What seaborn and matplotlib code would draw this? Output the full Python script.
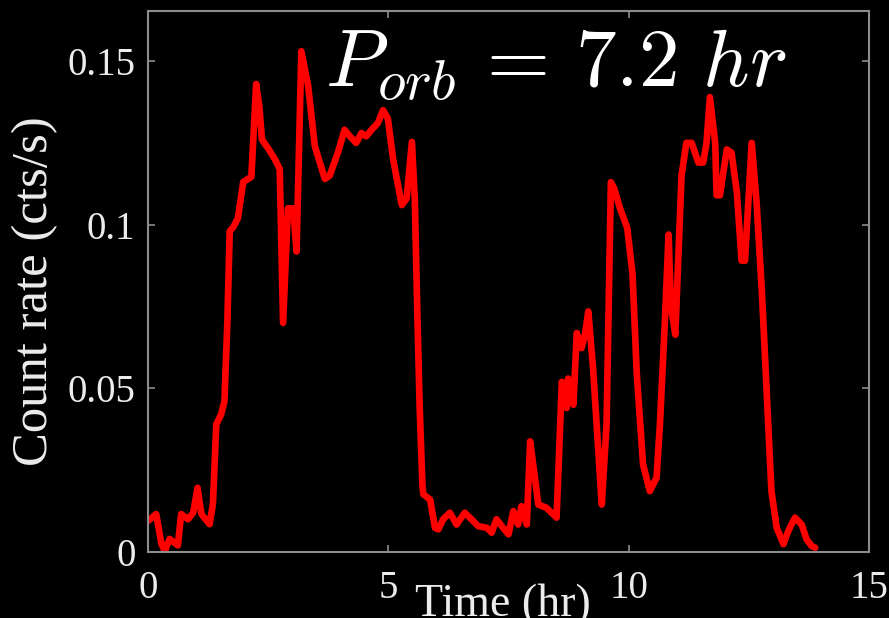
import matplotlib
matplotlib.use("Agg")
import matplotlib.pyplot as plt
import seaborn as sns
import pandas as pd

# Light curve: time since start of observation (hr) and count rate (cts/s)
time_hr = [
    0.0, 0.17, 0.28, 0.35, 0.45, 0.62, 0.69, 0.83, 0.94, 1.03, 1.11, 1.28,
    1.35, 1.39, 1.42, 1.52, 1.59, 1.65, 1.70, 1.78, 1.87, 1.98, 2.08, 2.15,
    2.25, 2.32, 2.37, 2.50, 2.64, 2.74, 2.81, 2.91, 3.02, 3.09, 3.19, 3.33,
    3.47, 3.68, 3.78, 3.95, 4.09, 4.20, 4.33, 4.44, 4.54, 4.65, 4.78, 4.89,
    4.99, 5.10, 5.28, 5.38, 5.49, 5.55, 5.60, 5.65, 5.71, 5.73, 5.87, 5.97,
    6.04, 6.14, 6.28, 6.42, 6.59, 6.73, 6.87, 7.05, 7.15, 7.25, 7.36, 7.50,
    7.60, 7.70, 7.77, 7.88, 7.95, 8.05, 8.12, 8.29, 8.50, 8.61, 8.71, 8.74,
    8.85, 8.92, 9.02, 9.09, 9.16, 9.26, 9.44, 9.54, 9.63, 9.70, 9.82, 9.97,
    10.08, 10.17, 10.30, 10.44, 10.58, 10.65, 10.75, 10.83, 10.88, 10.97,
    11.10, 11.20, 11.31, 11.45, 11.55, 11.62, 11.69, 11.80, 11.83, 11.90,
    12.04, 12.14, 12.25, 12.35, 12.42, 12.49, 12.56, 12.66, 12.77, 12.87,
    12.97, 13.08, 13.22, 13.32, 13.46, 13.60, 13.70, 13.81, 13.88,
]
count_rate = [
    0.0095, 0.0116, 0.0024, 0.0003, 0.0040, 0.0020, 0.0116, 0.0100, 0.0120,
    0.0196, 0.0116, 0.0085, 0.0146, 0.0288, 0.0390, 0.0420, 0.0460, 0.0700,
    0.0980, 0.0994, 0.1020, 0.1130, 0.1140, 0.1146, 0.1430, 0.1355, 0.1260,
    0.1233, 0.1200, 0.1170, 0.0700, 0.1050, 0.1050, 0.0918, 0.1530, 0.1426,
    0.1240, 0.1140, 0.1150, 0.1220, 0.1290, 0.1270, 0.1250, 0.1280, 0.1270,
    0.1290, 0.1310, 0.1350, 0.1324, 0.1200, 0.1060, 0.1080, 0.1253, 0.1080,
    0.0750, 0.0450, 0.0200, 0.0176, 0.0160, 0.0074, 0.0069, 0.0100, 0.0120,
    0.0084, 0.0120, 0.0100, 0.0079, 0.0074, 0.0059, 0.0100, 0.0079, 0.0054,
    0.0125, 0.0084, 0.0140, 0.0084, 0.0338, 0.0227, 0.0145, 0.0135, 0.0105,
    0.0520, 0.0440, 0.0530, 0.0450, 0.0669, 0.0623, 0.0664, 0.0735, 0.0560,
    0.0145, 0.0390, 0.1130, 0.1110, 0.1050, 0.0990, 0.0850, 0.0540, 0.0267,
    0.0186, 0.0227, 0.0390, 0.0694, 0.0970, 0.0750, 0.0664, 0.1150, 0.1250,
    0.1250, 0.1190, 0.1190, 0.1250, 0.1390, 0.1250, 0.1090, 0.1090, 0.1230,
    0.1220, 0.1100, 0.0890, 0.0890, 0.1070, 0.1250, 0.1070, 0.0800, 0.0490,
    0.0186, 0.0074, 0.0024, 0.0064, 0.0105, 0.0084, 0.0039, 0.0018, 0.0013,
]

x_ticks = [0, 5, 10, 15]
x_tick_labels = ["0", "5", "10", "15"]
y_ticks = [0, 0.05, 0.1, 0.15]
y_tick_labels = ["0", "0.05", "0.1", "0.15"]

fg = "#ececec"
edge = "#8c8c8c"

sns.set_style("dark", {
    "axes.facecolor": "black",
    "figure.facecolor": "black",
    "axes.edgecolor": edge,
    "axes.grid": False,
})
plt.rcParams["font.family"] = ["Liberation Serif", "DejaVu Serif"]
plt.rcParams["mathtext.fontset"] = "cm"

df = pd.DataFrame({"time": time_hr, "rate": count_rate})

fig = plt.figure(figsize=(8.89, 6.18), dpi=100)
ax = fig.add_axes([0.1665, 0.1068, 0.811, 0.8754])

sns.lineplot(data=df, x="time", y="rate", ax=ax, color="#ff0000",
             linewidth=4.8, sort=False, estimator=None)
for ln in ax.get_lines():
    ln.set_solid_joinstyle("round")
    ln.set_solid_capstyle("round")

ax.set_xlim(0, 15)
ax.set_ylim(0, 0.1653)
ax.set_xticks(x_ticks, x_tick_labels)
ax.set_yticks(y_ticks, y_tick_labels)

for s in ax.spines.values():
    s.set_visible(True)
    s.set_color(edge)
    s.set_linewidth(1.5)

ax.tick_params(axis="both", which="major", direction="in", length=5,
               width=1.2, color=edge, labelcolor=fg, labelsize=28,
               top=True, right=True, bottom=True, left=True)
ax.tick_params(axis="x", pad=13)
ax.tick_params(axis="y", pad=9)

ax.set_xlabel("Time (hr)", fontsize=33, color=fg)
ax.xaxis.set_label_coords(0.492, -0.058)
ax.set_ylabel("Count rate (cts/s)", fontsize=36.5, color=fg)
ax.yaxis.set_label_coords(-0.125, 0.483)

ax.text(0.566, 0.8595, r"$P_{orb}\, =\, 7.2\ hr$", transform=ax.transAxes,
        ha="center", va="baseline", fontsize=58.5, color="white")

fig.savefig("out.png", dpi=100, facecolor="black")
